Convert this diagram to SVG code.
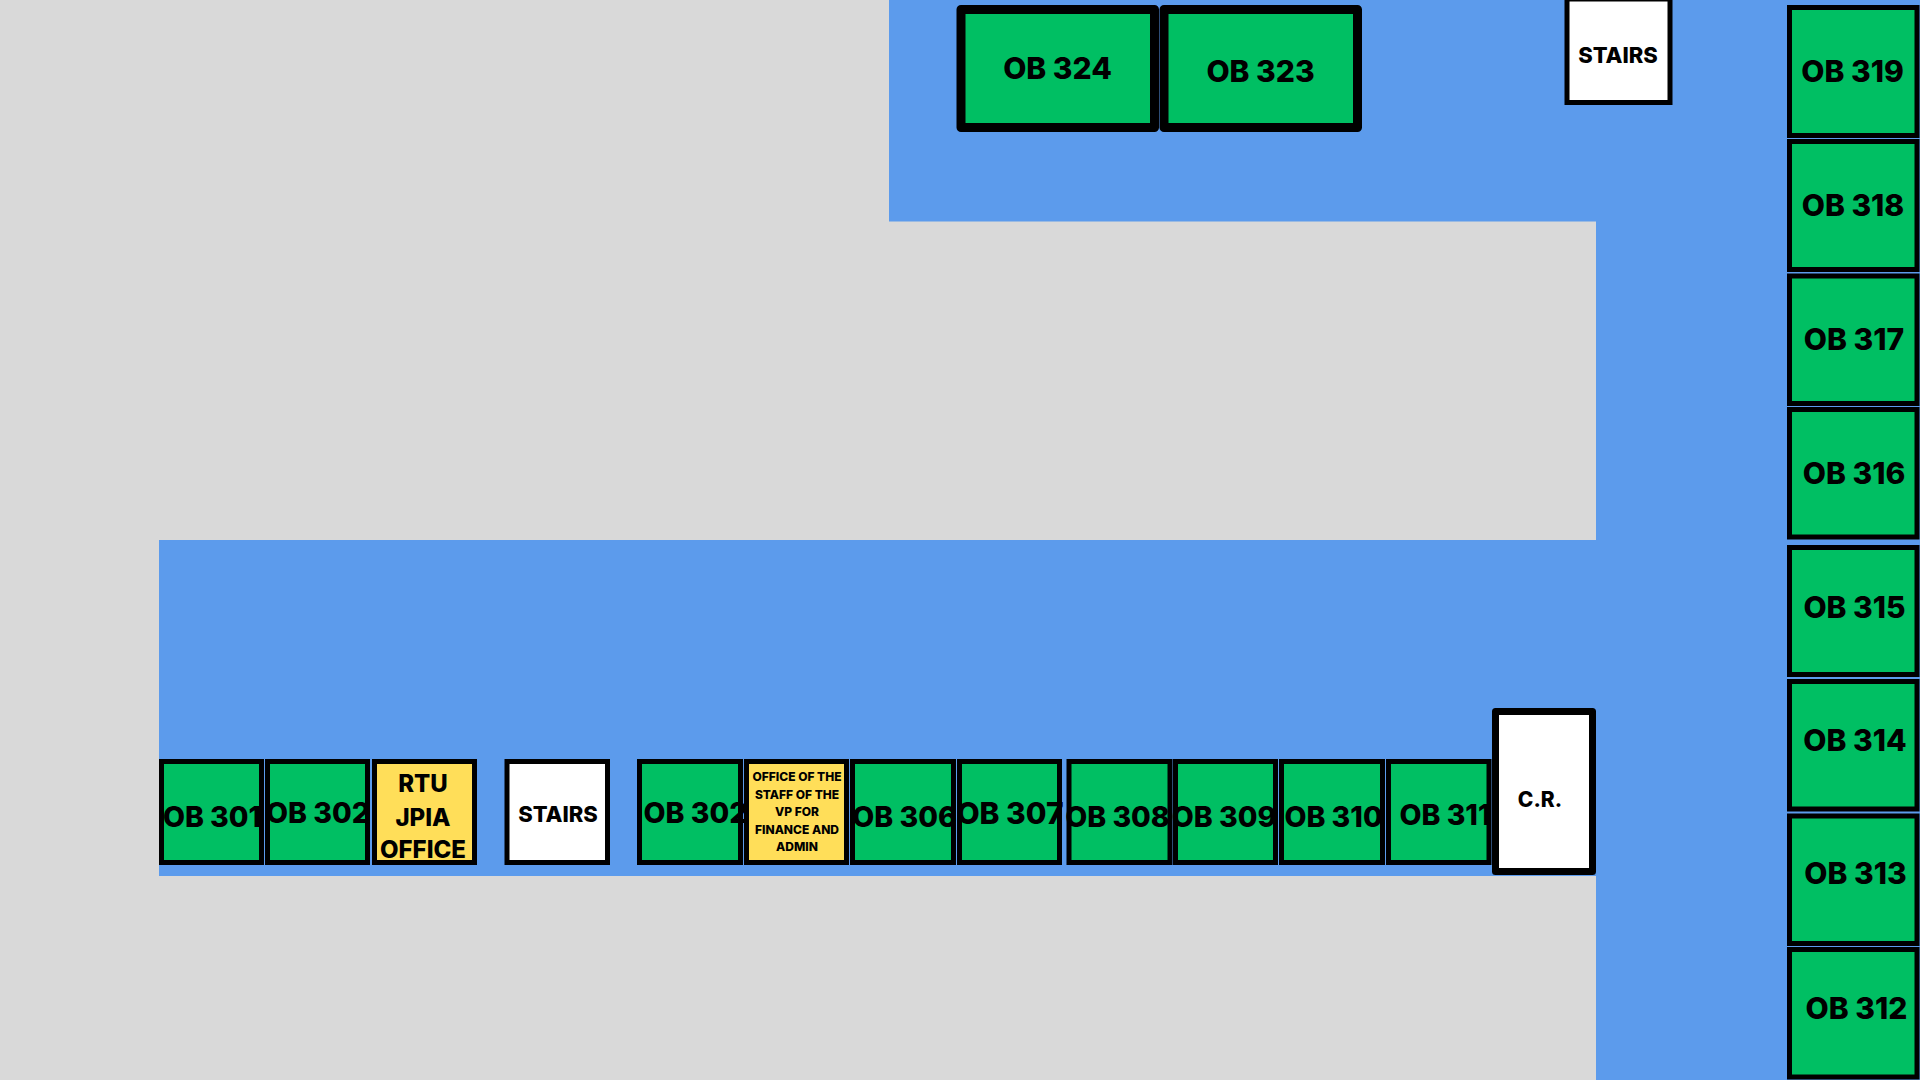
<svg xmlns="http://www.w3.org/2000/svg" width="1920" height="1080" viewBox="0 0 1920 1080">
<style>
.g{fill:#00bf63}.y{fill:#ffde59}.w{fill:#fff}
rect.b{stroke:#000;stroke-width:5}
rect.t{stroke:#000;stroke-width:9;stroke-linejoin:round}
rect.c{stroke:#000;stroke-width:7;stroke-linejoin:round}
text{font-family:"Inter","Open Sans","Liberation Sans",sans-serif;font-weight:800;fill:#000;text-anchor:middle}
.l{font-size:30px}.m{font-size:28.500px}.n{font-size:28.500px}.s{font-size:22px}.o{font-size:24px}.f{font-size:12px}
</style>
<rect width="1920" height="1080" fill="#d9d9d9"/>
<g id="corridors" fill="#5c9bec">
<rect x="889" y="0" width="1031" height="221.500"/>
<rect x="1596" y="0" width="324" height="1080"/>
<rect x="159" y="540" width="1437" height="336"/>
</g>
<g id="ob301"><rect class="b g" x="161.500" y="761.500" width="100" height="101"/><text class="m" x="212" y="827">OB 301</text></g>
<g id="ob302"><rect class="b g" x="267.500" y="761.500" width="100" height="101"/><text class="m" x="318" y="823">OB 302</text></g>
<g id="rtu-jpia"><rect class="b y" x="374.500" y="761.500" width="100" height="101"/><text class="o" x="423" y="792">RTU</text><text class="o" x="423" y="826">JPIA</text><text class="o" x="423" y="858">OFFICE</text></g>
<g id="stairs-low"><rect class="b w" x="507" y="761.500" width="100.500" height="101"/><text class="s" x="558" y="822">STAIRS</text></g>
<g id="ob302b"><rect class="b g" x="639.500" y="761.500" width="101" height="101"/><text class="m" x="695.500" y="823">OB 302</text></g>
<g id="office-vp"><rect class="b y" x="746.500" y="761.500" width="100" height="101"/><text class="f" x="797" y="781">OFFICE OF THE</text><text class="f" x="797" y="799">STAFF OF THE</text><text class="f" x="797" y="816">VP FOR</text><text class="f" x="797" y="834">FINANCE AND</text><text class="f" x="797" y="851">ADMIN</text></g>
<g id="ob306"><rect class="b g" x="852.500" y="761.500" width="101" height="101"/><text class="m" x="904.500" y="827">OB 306</text></g>
<g id="ob307"><rect class="b g" x="959.500" y="761.500" width="100" height="101"/><text class="l" x="1010" y="824">OB 307</text></g>
<g id="ob308"><rect class="b g" x="1069" y="761.500" width="101" height="101"/><text class="m" x="1117.500" y="827">OB 308</text></g>
<g id="ob309"><rect class="b g" x="1175.500" y="761.500" width="100" height="101"/><text class="m" x="1224" y="827">OB 309</text></g>
<g id="ob310"><rect class="b g" x="1281.500" y="761.500" width="101" height="101"/><text class="m" x="1333.500" y="827">OB 310</text></g>
<g id="ob311"><rect class="b g" x="1388.500" y="761.500" width="100.500" height="101"/><text class="n" x="1445" y="825">OB 311</text></g>
<g id="cr"><rect class="c w" x="1495.500" y="711.500" width="97" height="160"/><text x="1540" y="807" font-size="21">C.R.</text></g>
<g id="ob324"><rect class="t g" x="961" y="9.500" width="193.500" height="118"/><text class="l" x="1057.500" y="79">OB 324</text></g>
<g id="ob323"><rect class="t g" x="1164" y="9.500" width="193.500" height="118"/><text class="l" x="1260.500" y="82">OB 323</text></g>
<g id="stairs-top"><rect class="b w" x="1567" y="-1" width="103" height="103.500"/><text class="s" x="1618" y="63">STAIRS</text></g>
<g id="ob319"><rect class="b g" x="1789.500" y="7.500" width="127.500" height="128"/><text class="l" x="1852.500" y="82">OB 319</text></g>
<g id="ob318"><rect class="b g" x="1789.500" y="141.500" width="127.500" height="128"/><text class="l" x="1853" y="216">OB 318</text></g>
<g id="ob317"><rect class="b g" x="1789.500" y="276" width="127.500" height="127.500"/><text class="l" x="1854" y="350">OB 317</text></g>
<g id="ob316"><rect class="b g" x="1789.500" y="409.500" width="127.500" height="127.500"/><text class="l" x="1854" y="484">OB 316</text></g>
<g id="ob315"><rect class="b g" x="1789.500" y="547.500" width="127.500" height="127"/><text class="l" x="1854.500" y="618">OB 315</text></g>
<g id="ob314"><rect class="b g" x="1789.500" y="681.500" width="127.500" height="127.500"/><text class="l" x="1855" y="751">OB 314</text></g>
<g id="ob313"><rect class="b g" x="1789.500" y="816" width="127.500" height="127.500"/><text class="l" x="1855.500" y="884">OB 313</text></g>
<g id="ob312"><rect class="b g" x="1789.500" y="949.500" width="127.500" height="127.500"/><text class="l" x="1856.500" y="1019">OB 312</text></g>
</svg>
